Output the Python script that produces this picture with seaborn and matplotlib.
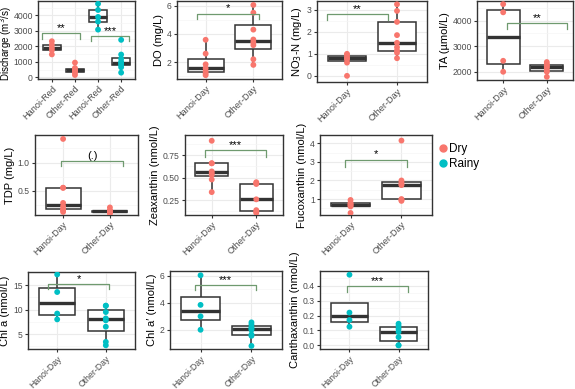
import matplotlib
matplotlib.use('Agg')
import numpy as np
import pandas as pd
import matplotlib.pyplot as plt
import seaborn as sns
from matplotlib.lines import Line2D
from matplotlib.ticker import AutoMinorLocator

# ---- data ----
seasons = ['Dry', 'Rainy']
colors = {'Dry': '#F8766D', 'Rainy': '#00BFC4'}

discharge_hanoi_dry = [1480, 1750, 1900, 2100, 2330]
discharge_other_dry = [150, 300, 400, 450, 500, 600, 950]
discharge_hanoi_rainy = [3080, 3600, 3900, 4350, 4750]
discharge_other_rainy = [300, 650, 800, 900, 1000, 1200, 1470, 2420]
discharge_labels = ['Hanoi-Red', 'Other-Red', 'Hanoi-Red', 'Other-Red']

do_hanoi = [1.07, 1.2, 1.35, 1.56, 1.84, 2.6, 3.58]
do_other = [1.8, 2.2, 3.2, 3.4, 3.6, 4.3, 5.5, 6.05]
no3_hanoi = [0.0, 0.6, 0.75, 0.8, 0.85, 0.95, 1.0]
no3_other = [0.8, 1.05, 1.15, 1.3, 1.5, 1.85, 2.45, 2.95, 3.25]
ta_hanoi = [2000, 2430, 4330, 4650]
ta_other = [1800, 2000, 2050, 2150, 2200, 2250, 2300, 2380]

tdp_hanoi = [0.12, 0.15, 0.17, 0.22, 0.28, 0.55, 0.55, 1.42]
tdp_other = [0.09, 0.11, 0.12, 0.13, 0.14, 0.15, 0.2]
zea_hanoi = [0.34, 0.48, 0.53, 0.55, 0.57, 0.66, 0.66, 0.91]
zea_other = [0.11, 0.12, 0.14, 0.26, 0.43, 0.44, 0.45]
fuco_hanoi = [0.25, 0.6, 0.65, 0.7, 0.75, 0.8, 0.95]
fuco_other = [0.9, 0.95, 1.0, 1.75, 1.8, 1.9, 2.0, 4.15]

chla_hanoi = [8.0, 9.2, 13.6, 17.2]
chla_other = [2.7, 3.4, 6.5, 7.8, 8.2, 9.5, 10.8, 10.8]
chlap_hanoi = [2.0, 3.0, 3.85, 6.05]
chlap_other = [0.8, 1.55, 1.65, 2.0, 2.1, 2.2, 2.4, 2.55]
cantha_hanoi = [0.125, 0.17, 0.22, 0.475]
cantha_other = [0.0, 0.0, 0.055, 0.09, 0.11, 0.13, 0.145]

day_labels = ['Hanoi-Day', 'Other-Day']

plt.rcParams['font.family'] = ['Liberation Sans', 'DejaVu Sans']

W, H = 575, 389
fig = plt.figure(figsize=(W / 100, H / 100), dpi=100)


def add_ax(x0, y0, x1, y1):
    return fig.add_axes([x0 / W, 1 - y1 / H, (x1 - x0) / W, (y1 - y0) / H])


def panel(ax, groups, ticklabels, ylabel, ylim, yticks, brackets, xsize=6.6):
    rows = []
    order = []
    for i, (season, vals) in enumerate(groups):
        key = f'g{i}'
        order.append(key)
        for v in vals:
            rows.append({'grp': key, 'season': season, 'val': v})
    df = pd.DataFrame(rows)

    ax.set_axisbelow(True)
    sns.boxplot(data=df, x='grp', y='val', order=order, ax=ax, width=0.75,
                showfliers=False, showcaps=False, color='white',
                linecolor='#333333', linewidth=1.1,
                medianprops={'linewidth': 2.4, 'color': '#333333'})
    sns.stripplot(data=df, x='grp', y='val', order=order, hue='season',
                  palette=colors, jitter=False, size=4.2, ax=ax,
                  legend=False, zorder=3, linewidth=0)

    ax.set_xlim(-0.6, len(order) - 0.4)
    ax.set_ylim(*ylim)
    ax.set_yticks(yticks)
    ax.yaxis.set_minor_locator(AutoMinorLocator(2))
    ax.grid(True, which='major', color='#EBEBEB', lw=0.8)
    ax.grid(True, which='minor', axis='y', color='#F5F5F5', lw=0.5)
    ax.tick_params(which='minor', length=0)
    ax.tick_params(which='major', length=2.5, width=0.8, color='#333333',
                   labelcolor='#4D4D4D', pad=1.2)
    ax.tick_params(axis='y', labelsize=6.2)
    ax.tick_params(axis='x', labelsize=xsize)
    ax.set_xticks(range(len(order)))
    ax.set_xticklabels(ticklabels, rotation=45, ha='right',
                       rotation_mode='anchor')
    ax.set_xlabel('')
    ax.set_ylabel(ylabel, fontsize=8, labelpad=2, color='black')
    for s in ax.spines.values():
        s.set_color('#333333')
        s.set_linewidth(1.0)

    for (x0, x1, top, tip, label) in brackets:
        ax.plot([x0, x0, x1, x1], [tip, top, top, tip], color='#6F9A6F',
                lw=0.9, zorder=4)
        ax.text((x0 + x1) / 2, top, label, ha='center', va='bottom',
                fontsize=8, color='black')


# row 1
ax = add_ax(38, 1, 135, 79)
panel(ax, [('Dry', discharge_hanoi_dry), ('Dry', discharge_other_dry),
           ('Rainy', discharge_hanoi_rainy), ('Rainy', discharge_other_rainy)],
      discharge_labels, 'Discharge (m$^3$/s)', (-110, 4930),
      [0, 1000, 2000, 3000, 4000],
      [(-0.43, 1.23, 2880, 2500, '**'), (1.7, 3.36, 2670, 2350, '***')])
ax.yaxis.label.set_fontsize(7.0)
ax.yaxis.set_label_coords(-0.25, 0.45)

ax = add_ax(177, 1, 282, 79)
panel(ax, [('Dry', do_hanoi), ('Dry', do_other)], day_labels,
      'DO (mg/L)', (0.8, 6.33), [2, 4, 6],
      [(-0.18, 1.12, 5.44, 5.05, '*')])

ax = add_ax(317, 1, 427, 82)
panel(ax, [('Dry', no3_hanoi), ('Dry', no3_other)], day_labels,
      'NO$_3$-N (mg/L)', (-0.28, 3.4), [0, 1, 2, 3],
      [(-0.4, 0.82, 2.8, 2.54, '**')])

ax = add_ax(477, 1, 573, 80)
panel(ax, [('Dry', ta_hanoi), ('Dry', ta_other)], day_labels,
      'TA (µmol/L)', (1677, 4774), [2000, 3000, 4000],
      [(0.09, 1.47, 3897, 3677, '**')])

# row 2
ax = add_ax(35, 135, 138, 215)
panel(ax, [('Dry', tdp_hanoi), ('Dry', tdp_other)], day_labels,
      'TDP (mg/L)', (0.065, 1.49), [0.5, 1.0],
      [(-0.04, 1.28, 1.03, 0.93, '(.)')])

ax = add_ax(185, 135, 283, 215)
panel(ax, [('Dry', zea_hanoi), ('Dry', zea_other)], day_labels,
      'Zeaxanthin (nmol/L)', (0.086, 0.974), [0.25, 0.50, 0.75],
      [(-0.16, 1.21, 0.806, 0.73, '***')])

ax = add_ax(320, 135, 432, 215)
panel(ax, [('Dry', fuco_hanoi), ('Dry', fuco_other)], day_labels,
      'Fucoxanthin (nmol/L)', (0.14, 4.45), [1, 2, 3, 4],
      [(-0.11, 1.11, 3.13, 2.73, '*')])

# row 3
ax = add_ax(28, 272, 135, 349)
panel(ax, [('Rainy', chla_hanoi), ('Rainy', chla_other)], day_labels,
      'Chl a (nmol/L)', (1.94, 17.7), [5, 10, 15],
      [(-0.19, 1.07, 15.3, 14.2, '*')], xsize=6.3)

ax = add_ax(170, 271, 282, 349)
panel(ax, [('Rainy', chlap_hanoi), ('Rainy', chlap_other)], day_labels,
      'Chl a\u2032 (nmol/L)', (0.57, 6.37), [2, 4, 6],
      [(-0.11, 1.08, 5.33, 4.94, '***')], xsize=6.3)

ax = add_ax(320, 271, 428, 349)
panel(ax, [('Rainy', cantha_hanoi), ('Rainy', cantha_other)], day_labels,
      'Canthaxanthin (nmol/L)', (-0.025, 0.5), [0.0, 0.1, 0.2, 0.3, 0.4],
      [(-0.05, 1.2, 0.40, 0.362, '***')], xsize=6.3)

handles = [Line2D([], [], marker='o', ls='', color=colors[s], markersize=5)
           for s in seasons]
fig.legend(handles, seasons, loc='upper left',
           bbox_to_anchor=(432 / W, 1 - 138 / H), frameon=False,
           fontsize=8.5, handletextpad=0.05, handlelength=1.0,
           labelspacing=0.25, borderaxespad=0)

fig.savefig('out.png', dpi=100)
